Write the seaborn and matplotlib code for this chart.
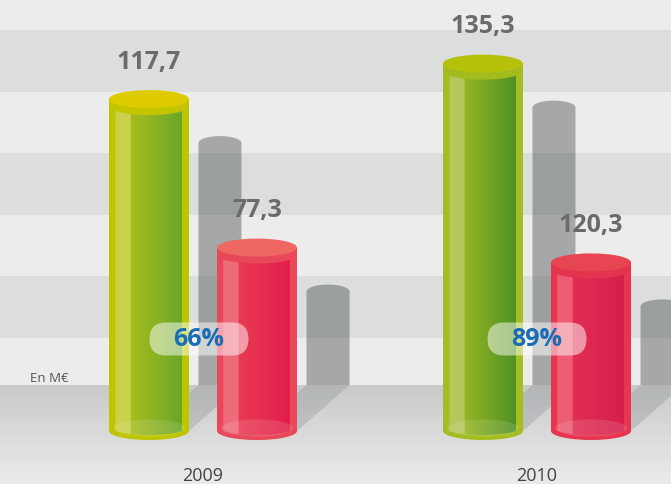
import numpy as np
import pandas as pd
import matplotlib
matplotlib.use("Agg")
import matplotlib.pyplot as plt
import seaborn as sns
from matplotlib.patches import Ellipse, PathPatch, Polygon, FancyBboxPatch
from matplotlib.path import Path
from matplotlib.colors import LinearSegmentedColormap
from matplotlib.transforms import ScaledTranslation

# Data (values in M€, as printed on the chart)
years = ["2009", "2010"]
series = ["total", "part"]
total_values = [117.7, 135.3]
part_values = [77.3, 120.3]
# drawn cylinder heights (the chart is not to scale)
total_drawn = [120.7, 133.6]
part_drawn = [66.7, 61.3]
shares = [66, 89]
unit_label = "En M€"

# Layout: pixel <-> data mapping
PX = 2.75      # pixels per value unit
XPX = 334      # pixels per year category
BASE = 431     # pixel row of cylinder base
X0 = 203       # pixel column of the first year

def yv(py):
    return (BASE - py) / PX

def xv(px):
    return (px - X0) / XPX

# colour sets per cylinder: rim, highlight, body left, body right, top face, lip
STYLES = [
    dict(rim="#bec500", hl="#c9d049", c1="#a8bd1e", c2="#6aa62a", face="#dfcc00", lip="#c3c500"),
    dict(rim="#e9475a", hl="#ee6c7a", c1="#e83a52", c2="#e21f4b", face="#ee6763", lip="#e9475a"),
    dict(rim="#a4bd20", hl="#b5c65a", c1="#96b523", c2="#4f9125", face="#b6c209", lip="#a3bb1d"),
    dict(rim="#e8354f", hl="#ec5d74", c1="#e22e52", c2="#d41f4d", face="#e84553", lip="#e2334f"),
]

sns.set_theme(style="white")
plt.rcParams["font.family"] = ["Open Sans", "DejaVu Sans"]

fig = plt.figure(figsize=(6.71, 4.84), dpi=100)
fig.patch.set_facecolor("#ececec")
ax = fig.add_axes([0, 0, 1, 1])
ax.set_facecolor("#ececec")

df = pd.DataFrame({
    "year": years * 2,
    "series": [series[0]] * 2 + [series[1]] * 2,
    "height": total_drawn + part_drawn,
})
sns.barplot(data=df, x="year", y="height", hue="series", hue_order=series,
            dodge=True, width=0.647, gap=0.26, errorbar=None, legend=False,
            ax=ax, zorder=3.05, linewidth=0)

bars = sorted(ax.patches, key=lambda p: p.get_x())
labels = [total_values[0], part_values[0], total_values[1], part_values[1]]

# background bands
for top, bot in [(30, 92), (153, 215), (276, 338)]:
    ax.axhspan(yv(bot), yv(top), color="#dcdede", lw=0, zorder=0.2)

# floor gradient
floor_cmap = LinearSegmentedColormap.from_list(
    "floor", [(0, "#c8caca"), (0.45, "#d8d9d9"), (1, "#ebebeb")])
floor = floor_cmap(np.linspace(0, 1, 100))[:, None, :3]
ax.imshow(floor, extent=[xv(0), xv(671), yv(484), yv(385)], aspect="auto",
          zorder=0.5, interpolation="bilinear")

eh = 18 / PX
lip = 7 / PX
horizon = yv(385)

def arc(cx, cy, w, h, t0, t1, n=60):
    t = np.linspace(t0, t1, n)
    return np.column_stack([cx + w / 2 * np.cos(t), cy + h / 2 * np.sin(t)])

for p, st, val in zip(bars, STYLES, labels):
    x0, w, h = p.get_x(), p.get_width(), p.get_height()
    x1, cx = x0 + w, x0 + w / 2
    p.set_facecolor(st["rim"])
    p.set_edgecolor("none")

    # grey back shadow cylinder
    gx, gw = cx + 71 / XPX, 43 / XPX
    gtop, geh = h - 44 / PX, 14 / PX
    verts = np.vstack([[gx - gw / 2, horizon], arc(gx, gtop, gw, geh, np.pi, 0),
                       [gx + gw / 2, horizon], [gx - gw / 2, horizon]])
    ax.add_patch(PathPatch(Path(verts), fc="#555a5c", ec="none", alpha=0.47, zorder=1))
    # floor shadow
    ax.add_patch(Polygon([(gx - gw / 2, horizon), (gx + gw / 2, horizon), (x1, 0), (x1 - gw, 0)],
                         closed=True, fc="#6a6e70", ec="none", alpha=0.22, zorder=1.2))

    # bottom rim
    ax.add_patch(Ellipse((cx, 0), w, eh, fc=st["rim"], ec="none", zorder=3))

    # body with horizontal gradient
    b = 5 / PX
    body = np.vstack([[x0, h - lip], [x0, b], arc(cx, b, w, eh, np.pi, 2 * np.pi),
                      [x1, h - lip], [x0, h - lip]])
    clip = PathPatch(Path(body), transform=ax.transData)
    cmap = LinearSegmentedColormap.from_list("body", [
        (0.0, st["rim"]), (0.075, st["rim"]), (0.08, st["hl"]), (0.265, st["hl"]),
        (0.27, st["c1"]), (0.915, st["c2"]), (0.92, st["rim"]), (1.0, st["rim"])])
    grad = cmap(np.linspace(0, 1, 400))[None, :, :3]
    im = ax.imshow(grad, extent=[x0, x1, -eh, h], aspect="auto", zorder=3.1,
                   interpolation="nearest")
    im.set_clip_path(clip)
    ax.add_patch(Ellipse((cx, 3 / PX), w * 0.9, eh * 0.95, fc="white", ec="none",
                         alpha=0.12, zorder=3.2))

    # top: lip band then face
    lipv = np.vstack([[x0, h], [x0, h - lip], arc(cx, h - lip, w, eh, np.pi, 2 * np.pi),
                      [x1, h], [x0, h]])
    ax.add_patch(PathPatch(Path(lipv), fc=st["lip"], ec="none", zorder=3.3))
    ax.add_patch(Ellipse((cx, h), w, eh, fc=st["face"], ec="none", zorder=3.4))

    ax.text(cx, h + 37 / PX, f"{val:.1f}".replace(".", ","), ha="center", va="center",
            fontsize=18, fontweight="bold", color="#6b6b6b", zorder=9)

# share pills
for i, s in enumerate(shares):
    cy = yv(339)
    px_shift = i - 0.012 * (1 - i)
    trans = fig.dpi_scale_trans + ScaledTranslation(px_shift, cy, ax.transData)
    ax.add_patch(FancyBboxPatch((-0.495, -0.165), 0.99, 0.33,
                                boxstyle="round,pad=0,rounding_size=0.165",
                                transform=trans, fc="white", ec="none", alpha=0.5, zorder=8))
    ax.text(px_shift, cy, f"{s}%", ha="center", va="center", fontsize=18,
            fontweight="bold", color="#1a6db5", zorder=9)

# year labels and unit
for i, y in enumerate(years):
    ax.text(i, yv(476), y, ha="center", va="center", fontsize=13, color="#444444", zorder=9)
ax.text(xv(49.5), yv(379), unit_label, ha="center", va="center", fontsize=9.5,
        color="#555555", zorder=9)

ax.set_xlim(xv(0), xv(671))
ax.set_ylim(yv(484), yv(0))
ax.set_xticks([])
ax.set_yticks([])
ax.set_xlabel("")
ax.set_ylabel("")
for sp in ax.spines.values():
    sp.set_visible(False)

fig.savefig("out.png", dpi=100)
